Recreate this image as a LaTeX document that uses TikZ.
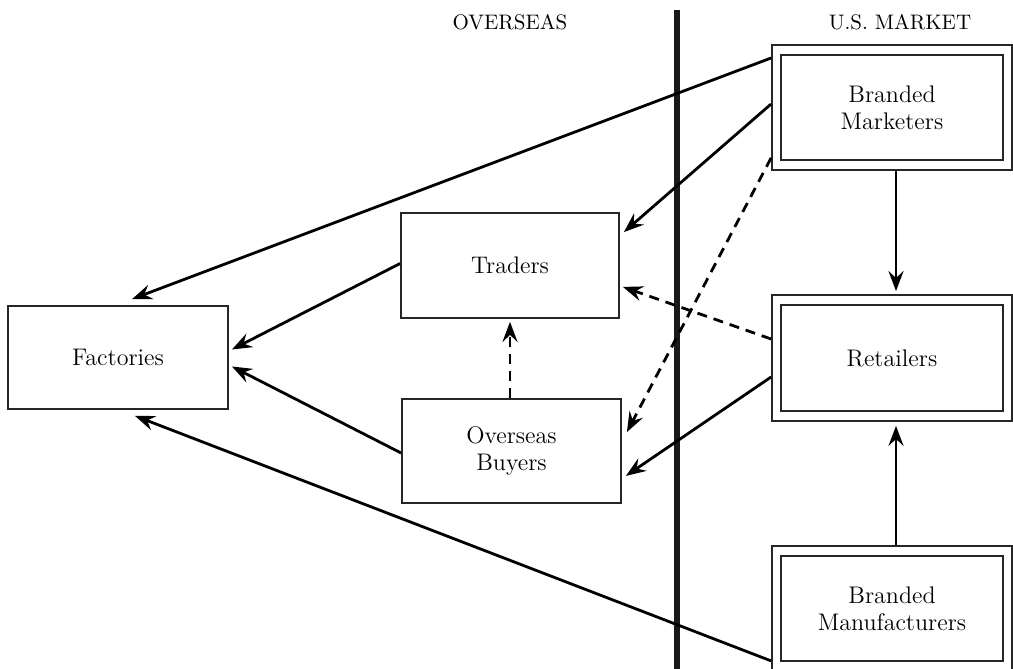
\documentclass[tikz,border=0pt]{standalone}
\usetikzlibrary{calc,arrows.meta}
\begin{document}
\begin{tikzpicture}[x=0.5pt,y=-0.5pt,
  box/.style={draw=black!85,line width=0.9pt,fill=white,inner sep=0pt,
    font=\fontsize{12}{13.5}\selectfont,align=center},
  outerbox/.style={box,minimum width=120pt,minimum height=62.5pt},
  conn/.style={line width=1.4pt,-{Stealth[length=10pt,width=7.5pt,inset=3.5pt]}},
  dconn/.style={conn,dash pattern=on 5pt off 3.5pt},
  head/.style={font=\fontsize{10.5}{12}\selectfont},
  divider/.style={line width=2.6pt,black!90}]
\useasboundingbox (0,0) rectangle (1013,669);
% divider
\coordinate (dtop) at (677,10);
\coordinate (dbot) at (677,675);
\draw[divider] (dtop) -- (dbot);
\node[head] (hover) at (510,22) {OVERSEAS};
\node[head] (hus) at (900,22) {U.S. MARKET};
% boxes
\node[box,minimum width=110pt,minimum height=51.5pt] (fac) at (118,357.5) {Factories};
\node[box,minimum width=109pt,minimum height=52.5pt] (tra) at (510,265.5) {Traders};
\node[box,minimum width=109.5pt,minimum height=52pt] (ob) at (511.5,451) {Overseas\\Buyers};
\node[outerbox] (bm) at (892,107.5) {Branded\\Marketers};
\node[outerbox,minimum height=63pt] (ret) at (892,358) {Retailers};
\node[outerbox] (man) at (892,608.5) {Branded\\Manufacturers};
\foreach \n in {bm,ret,man}
  \draw[black!85,line width=0.9pt] ($(\n.north west)+(10,11)$) rectangle ($(\n.south east)+(-10,-11)$);
% connectors
\draw[conn] ($(bm.west)+(0,-49.5)$) -- ($(fac.north)+(14,-6)$);
\draw[conn] ($(bm.west)+(0,-3.5)$) -- ($(tra.north east)+(4,20)$);
\draw[dconn] ($(bm.south west)+(0,-13)$) -- ($(ob.north east)+(5,34)$);
\draw[conn] ($(bm.south)+(4,0)$) -- ($(ret.north)+(4,-3)$);
\draw[dconn] ($(ret.west)+(0,-19)$) -- ($(tra.south east)+(3,-32)$);
\draw[conn] ($(ret.west)+(0,19)$) -- ($(ob.south east)+(4,-28)$);
\draw[conn] ($(man.north)+(4,0)$) -- ($(ret.south)+(4,4)$);
\draw[conn] ($(man.south west)+(0,-11)$) -- ($(fac.south)+(17,6)$);
\draw[conn] ($(tra.west)+(0,-2)$) -- ($(fac.east)+(3,-8)$);
\draw[conn] ($(ob.west)+(0,2)$) -- ($(fac.east)+(3,9)$);
\draw[dconn] ($(ob.north)+(-1.5,0)$) -- ($(tra.south)+(0,3)$);
\end{tikzpicture}
\end{document}
